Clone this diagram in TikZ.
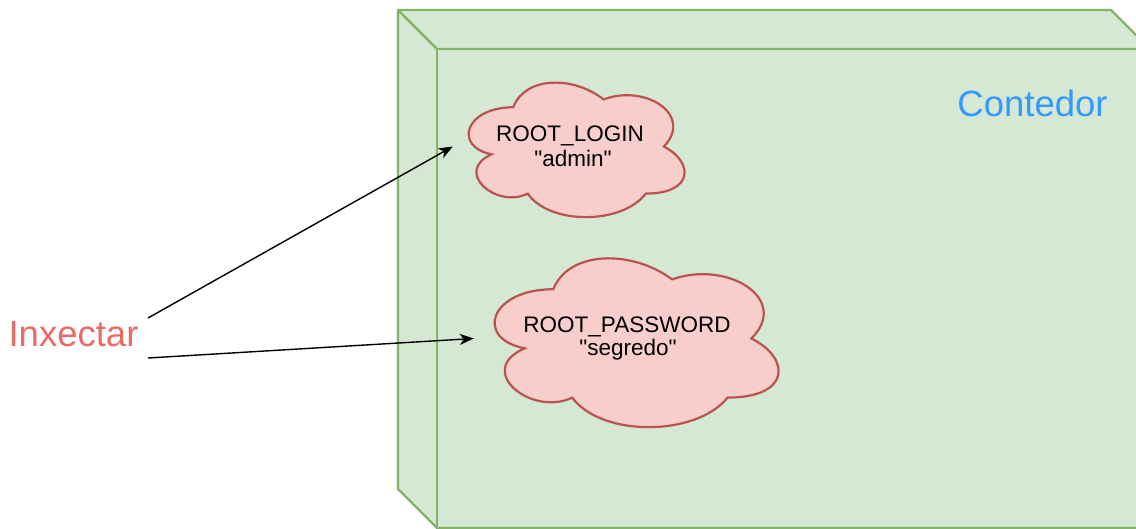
\documentclass[tikz,border=0pt]{standalone}
\usepackage{fontspec}
\setmainfont{Liberation Sans}
\usetikzlibrary{arrows.meta}
\definecolor{boxfill}{HTML}{D5E8D4}
\definecolor{boxline}{HTML}{82B366}
\definecolor{cloudfill}{HTML}{F8CECC}
\definecolor{cloudline}{HTML}{B85450}
\definecolor{titleblue}{HTML}{3399FF}
\definecolor{injred}{HTML}{EA6B66}
\newcommand\cloudshape[4]{%
  \begin{scope}[shift={(#1,#2)},x=#3pt,y=-#4pt]
    \filldraw[cloudstyle] (0.25,0.25) .. controls (0.05,0.25) and (0,0.5) .. (0.16,0.55)
      .. controls (0,0.66) and (0.18,0.9) .. (0.31,0.8)
      .. controls (0.4,1) and (0.7,1) .. (0.8,0.8)
      .. controls (1,0.8) and (1,0.6) .. (0.875,0.5)
      .. controls (1,0.3) and (0.8,0.1) .. (0.625,0.2)
      .. controls (0.5,0.05) and (0.3,0.05) .. (0.25,0.25) -- cycle;
  \end{scope}}
\begin{document}
\begin{tikzpicture}[x=1pt,y=-1pt,
  cubestyle/.style={draw=boxline,line width=2.2pt,line join=round},
  cloudstyle/.style={fill=cloudfill,draw=cloudline,line width=2.2pt},
  cloudbox/.style={minimum width=#1,inner sep=0pt,draw=none},
  cloudtext/.style={font=\fontsize{22.5}{26}\selectfont,anchor=base,inner sep=0pt},
  bigtext/.style={font=\fontsize{36.5}{40}\selectfont,anchor=base,inner sep=0pt},
  arrowline/.style={-{Stealth[length=14pt,width=11pt,inset=4pt]},line width=1.4pt,black}]
\useasboundingbox[fill=white] (0,0) rectangle (1136,529);
\begin{scope}
  \clip (0,0) rectangle (1136,529);
  \filldraw[cubestyle,fill=boxfill] (398,10) -- (1111,10) -- (1150,49) -- (1150,528)
     -- (437,528) -- (398,489) -- cycle;
  \draw[cubestyle] (398,10) -- (437,49) -- (1150,49);
  \draw[cubestyle] (437,49) -- (437,528);
\end{scope}
\cloudshape{453}{68}{241}{157}
\cloudshape{474}{240}{317}{197}
\node[cloudbox=241pt,minimum height=157pt] (login) at (573.5,146.5) {};
\node[cloudbox=317pt,minimum height=197pt] (password) at (632.5,338.5) {};
\node[cloudtext] (loginkey) at (570,142) {ROOT\_LOGIN};
\node[cloudtext] (loginval) at (573,167) {\textquotedbl admin\textquotedbl};
\node[cloudtext] (passkey) at (627,333) {ROOT\_PASSWORD};
\node[cloudtext] (passval) at (628,356) {\textquotedbl segredo\textquotedbl};
\node[bigtext,text=titleblue] (contedor) at (1032.5,117) {Contedor};
\node[bigtext,text=injred] (inxectar) at (73.5,347) {Inxectar};
\coordinate (s1) at (148,318);
\coordinate (s2) at (148,358);
\draw[arrowline] (s1) -- (login.west);
\draw[arrowline] (s2) -- (password.west);
\end{tikzpicture}
\end{document}
